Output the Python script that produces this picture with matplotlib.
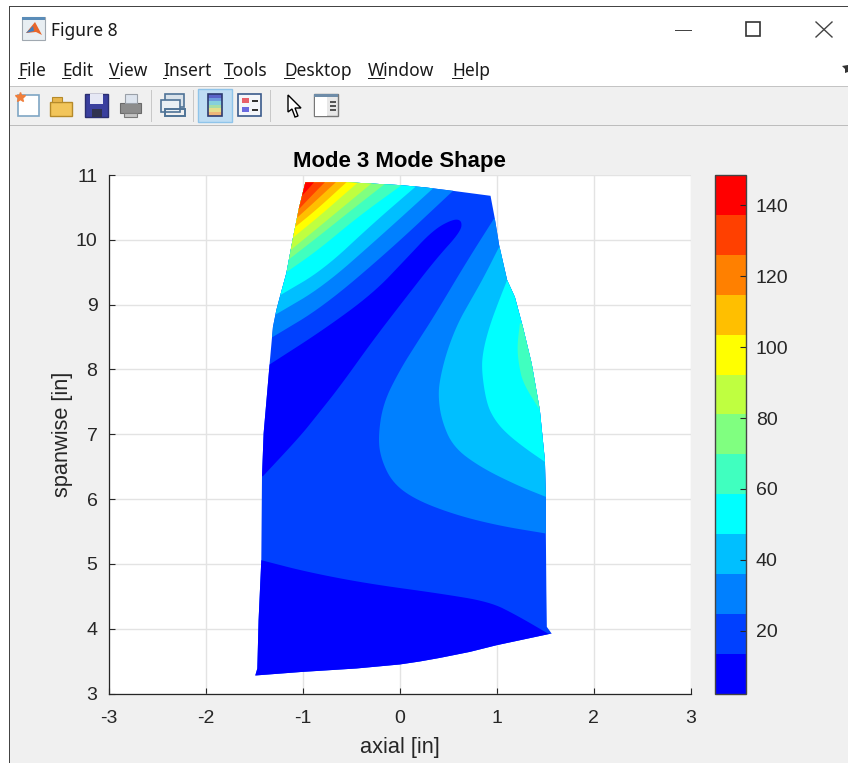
import numpy as np
import matplotlib
matplotlib.use('Agg')
import matplotlib.pyplot as plt
from matplotlib.colors import ListedColormap, BoundaryNorm
from matplotlib.cm import ScalarMappable
from matplotlib.patches import Rectangle, Polygon

plt.rcParams['font.family'] = ['Liberation Sans', 'DejaVu Sans']
plt.rcParams['axes.unicode_minus'] = False

# band colours, low to high
band_colors = ['#0000FF', '#0040FF', '#0080FF', '#00BFFF', '#00FFFF', '#40FFBF', '#80FF80',
               '#BFFF40', '#FFFF00', '#FFBF00', '#FF8000', '#FF4000', '#FF0000']
vmin, vmax = 2.2, 148.6
cbar_ticks = [20, 40, 60, 80, 100, 120, 140]
x_ticks = [-3, -2, -1, 0, 1, 2, 3]
y_ticks = [3, 4, 5, 6, 7, 8, 9, 10, 11]

# blade outline (axial, spanwise)
blade = [(-0.972, 10.886), (-0.567, 10.89), (0, 10.844), (0.258, 10.81), (0.546, 10.756), (0.935, 10.679),
         (0.979, 10.33), (1.024, 9.918), (1.106, 9.378), (1.186, 9.116), (1.268, 8.657), (1.358, 8.097),
         (1.443, 7.372), (1.495, 6.6), (1.505, 6.034), (1.505, 5.474), (1.51, 4.594), (1.515, 4.028),
         (1.564, 3.926), (0.997, 3.745), (0.722, 3.642), (0.412, 3.549), (0.206, 3.494), (0, 3.448),
         (-0.446, 3.386), (-1.007, 3.333),
         (-1.488, 3.278), (-1.467, 3.386), (-1.454, 4.131), (-1.426, 5.057), (-1.419, 6.343), (-1.402, 7.017),
         (-1.34, 8.093), (-1.306, 8.657), (-1.271, 8.915), (-1.23, 9.147), (-1.168, 9.486), (-1.1, 10.027),
         (-1.038, 10.489)]

# lowest band, root of the blade and the long pocket in the middle
low_root = [(-1.426, 5.057), (-0.962, 4.877), (-0.343, 4.698), (0.412, 4.543), (0.928, 4.414),
            (1.203, 4.208), (1.526, 3.926)]
low_pocket = [(-1.34, 8.077), (-0.791, 8.606), (-0.275, 9.173), (0.069, 9.713), (0.343, 10.15), (0.549, 10.32),
              (0.64, 10.3), (0.63, 10.13), (0.378, 9.713), (0.069, 9.12), (-0.275, 8.452), (-0.619, 7.732),
              (-0.859, 7.28), (-1.031, 6.96), (-1.409, 6.353)]

# contour lines round the leading edge tip, from the left edge to the top edge
tip_2 = [(-1.306, 8.503), (-0.791, 8.966), (-0.103, 9.841), (0.549, 10.756)]
tip_3 = [(-1.271, 8.853), (-0.791, 9.275), (-0.206, 10.046), (0.343, 10.793)]
tip_4 = [(-1.23, 9.147), (-0.791, 9.533), (-0.275, 10.253), (0.162, 10.818)]
tip_5 = [(-1.162, 9.506), (-0.842, 9.841), (-0.43, 10.355), (0.01, 10.833)]
tip_6 = [(-1.142, 9.698), (-0.842, 10.046), (-0.498, 10.458), (-0.155, 10.86)]
tip_7 = [(-1.124, 9.841), (-0.894, 10.123), (-0.601, 10.485), (-0.286, 10.875)]
tip_8 = [(-1.089, 10.046), (-0.807, 10.392), (-0.619, 10.639), (-0.43, 10.886)]
tip_9 = [(-1.075, 10.2), (-0.842, 10.485), (-0.55, 10.886)]
tip_10 = [(-1.059, 10.339), (-0.894, 10.562), (-0.66, 10.886)]
tip_11 = [(-1.031, 10.485), (-0.928, 10.648), (-0.773, 10.886)]
tip_12 = [(-1.007, 10.68), (-0.945, 10.78), (-0.884, 10.886)]

# contour lines on the trailing edge side, top to bottom
aft_2 = [(0.972, 10.33), (0.688, 9.66), (0.361, 8.838), (0.175, 8.406), (0, 7.989), (-0.172, 7.475), (-0.224, 6.94),
         (-0.189, 6.6), (-0.069, 6.241), (0.172, 5.983), (0.584, 5.751), (1.031, 5.586), (1.505, 5.469)]
aft_3 = [(1.024, 9.892), (0.859, 9.404), (0.732, 9.07), (0.6, 8.72), (0.49, 8.3), (0.42, 7.9), (0.395, 7.603), (0.43, 7.218),
         (0.549, 6.806), (0.825, 6.497), (1.203, 6.215), (1.505, 6.034)]
aft_4 = [(1.106, 9.378), (1.024, 9.07), (0.928, 8.684), (0.859, 8.298), (0.842, 7.989), (0.894, 7.475), (0.979, 7.218),
         (1.1, 7.012), (1.289, 6.786), (1.495, 6.574)]
aft_5 = [(1.237, 8.71), (1.209, 8.349), (1.227, 8.066), (1.271, 7.784), (1.443, 7.372)]


def smooth(pts, n=3):
  # corner cutting so the contours do not look like polylines, ends stay put
  pts = np.array(pts, dtype=float)
  for _ in range(n):
    q = 0.75 * pts[:-1] + 0.25 * pts[1:]
    r = 0.25 * pts[:-1] + 0.75 * pts[1:]
    mid = np.empty((2 * len(q), 2))
    mid[0::2] = q
    mid[1::2] = r
    pts = np.vstack([pts[:1], mid, pts[-1:]])
  return pts


fig = plt.figure(figsize=(8.48, 7.63), dpi=100, facecolor='#F0F0F0')
dark = '#262626'

# window chrome, in pixels
bg = fig.add_axes([0, 0, 1, 1], zorder=0)
bg.set_xlim(0, 848)
bg.set_ylim(763, 0)
bg.axis('off')


def rect(x0, y0, x1, y1, fc, ec='none', lw=0.0):
  bg.add_patch(Rectangle((x0, y0), x1 - x0, y1 - y0, facecolor=fc, edgecolor=ec, linewidth=lw))


rect(0, 0, 848, 6, 'white')
rect(0, 0, 9, 763, 'white')
rect(10, 7, 848, 86, 'white')
rect(9, 6, 848, 7, '#444444')
rect(9, 6, 10, 763, '#444444')
rect(10, 86, 848, 87, '#C4C4C4')
rect(10, 125, 848, 126, '#BDBDBD')

# matlab logo
rect(22, 17, 45, 40, '#E8EEF2', '#A0A8B0', 0.8)
rect(22, 17, 45, 20, '#5A8CB8')
bg.add_patch(Polygon([(26, 33), (35, 22), (42, 35), (36, 32)], facecolor='#E8662A'))
bg.add_patch(Polygon([(26, 33), (33, 26), (34, 31)], facecolor='#3E7FC1'))
bg.text(51, 31, 'Figure 8', family='Noto Sans', fontsize=12.5, color='#1A1A1A', va='center')

menu_names = ['File', 'Edit', 'View', 'Insert', 'Tools', 'Desktop', 'Window', 'Help']
menu_x = [18, 62, 109, 163, 224, 284, 368, 452]
menu_u = [8, 9, 11, 4, 10, 11, 17, 11]
for name, x, u in zip(menu_names, menu_x, menu_u):
  bg.text(x, 70.5, name, family='Noto Sans', fontsize=12.5, color='#1A1A1A', va='center')
  rect(x, 78, x + u, 79, '#1A1A1A')

# window buttons
rect(675, 30, 692, 31, '#444444')
rect(745.5, 22, 760, 36, 'none', '#333333', 1.2)
bg.plot([816, 832], [22, 37], color='#444444', lw=1.0)
bg.plot([816, 832], [37, 22], color='#444444', lw=1.0)
bg.add_patch(Polygon([(842, 66), (848, 65), (848, 72), (845, 73), (845, 69)], facecolor='#333333'))

# toolbar
for x in [151, 193, 270]:
  rect(x, 90, x + 1, 122, '#C8C8C8')
rect(198, 89, 232, 122, '#BFDDF3', '#8FC4EA', 1.0)
# new
rect(18, 95, 39, 116, 'white', '#7FA6C4', 1.2)
bg.plot([20], [97], marker='*', ms=7, color='#F07F3C')
# open
rect(50, 102, 72, 116, '#F2C55A', '#B58A2A', 1.0)
rect(52, 97, 62, 102, '#E8B64C', '#B58A2A', 0.8)
# save
rect(85, 94, 108, 117, '#3A3F9E', '#2A2E70', 1.0)
rect(90, 94, 103, 104, '#E6E8F5')
rect(92, 109, 102, 117, '#30324F')
# print
rect(120, 103, 141, 113, '#8C8C8C', '#6A6A6A', 0.8)
rect(125, 94, 137, 103, '#DDE4EE', '#9AA0A8', 0.8)
rect(124, 113, 137, 117, '#C4C4C4', '#7A7A7A', 0.8)
# link
rect(165, 94, 184, 107, '#D9E2EA', '#4F7396', 1.2)
rect(161, 100, 180, 112, '#EAF0F4', '#4F7396', 1.2)
rect(165, 109, 185, 116, 'none', '#4F7396', 1.4)
# colorbar
icon_colors = ['#5B64C8', '#6F9BDD', '#85D0DC', '#A8DDA6', '#E4DE8C', '#EDB678']
for i, c in enumerate(icon_colors):
  rect(208, 94 + i * 3.6, 222, 94 + (i + 1) * 3.6, c)
rect(208, 94, 222, 115.6, 'none', '#2D3A70', 1.2)
# legend
rect(238, 94, 261, 116, '#F4F6FA', '#3A5A8C', 1.2)
rect(242, 98, 249, 103, '#E8606A')
rect(242, 107, 249, 112, '#6A6AE0')
rect(252, 100, 258, 101.5, '#333333')
rect(252, 109, 258, 110.5, '#333333')
# arrow
bg.add_patch(Polygon([(288, 95), (288, 112), (292, 109), (295, 117), (298, 116), (295, 108), (301, 108)],
                     facecolor='white', edgecolor='black', linewidth=1.0))
# property editor
rect(314, 94, 338, 116, '#E8E8E8', '#777777', 1.0)
rect(314, 94, 338, 97, '#6E8CA8')
rect(315, 97, 327, 115.5, 'white')
for y in [101, 105, 109]:
  rect(330, y, 336, y + 2, '#555555')

# main plot
ax = fig.add_axes([108.5 / 848, (763 - 693.5) / 763, 582.5 / 848, (693.5 - 175) / 763], zorder=1)
ax.set_facecolor('white')

outline = Polygon(blade, closed=True, facecolor=band_colors[1], edgecolor='none', zorder=2)
ax.add_patch(outline)


def band(curve, extra, color):
  pts = np.vstack([smooth(curve), np.array(extra)])
  p = Polygon(pts, closed=True, facecolor=color, edgecolor='none', zorder=2)
  ax.add_patch(p)
  p.set_clip_path(outline)


band(low_root, [(1.9, 3.926), (1.9, 3.0), (-1.8, 3.0), (-1.8, low_root[0][1])], band_colors[0])
band(low_pocket, [(-1.8, low_pocket[-1][1]), (-1.8, low_pocket[0][1])], band_colors[0])

tip_lines = [tip_2, tip_3, tip_4, tip_5, tip_6, tip_7, tip_8, tip_9, tip_10, tip_11, tip_12]
for i, curve in enumerate(tip_lines):
  band(curve, [(curve[-1][0], 11.0), (-1.8, 11.0), (-1.8, curve[0][1])], band_colors[i + 2])

aft_lines = [aft_2, aft_3, aft_4, aft_5]
for i, curve in enumerate(aft_lines):
  band(curve, [(1.9, curve[-1][1]), (1.9, curve[0][1])], band_colors[i + 2])

ax.set_xlim(-3, 3)
ax.set_ylim(3, 11)
ax.set_xticks(x_ticks)
ax.set_yticks(y_ticks)
ax.grid(True, color='#E3E3E3', lw=1.0, zorder=1)
ax.set_axisbelow(True)
ax.spines['top'].set_visible(False)
ax.spines['right'].set_visible(False)
for s in ['left', 'bottom']:
  ax.spines[s].set_color(dark)
  ax.spines[s].set_linewidth(0.9)
ax.tick_params(direction='in', length=4.5, width=0.8, color=dark, labelcolor=dark, labelsize=14)
ax.tick_params(axis='x', pad=12)
ax.tick_params(axis='y', pad=8)
ax.set_title('Mode 3 Mode Shape', fontsize=15.9, fontweight='bold', color='black', pad=6)
ax.set_xlabel('axial [in]', fontsize=15.7, color=dark, labelpad=7)
ax.set_ylabel('spanwise [in]', fontsize=15.7, color=dark, labelpad=2)

# colorbar
cax = fig.add_axes([715 / 848, (763 - 693.7) / 763, 31 / 848, (693.7 - 175) / 763], zorder=1)
levels = np.linspace(vmin, vmax, len(band_colors) + 1)
sm = ScalarMappable(norm=BoundaryNorm(levels, len(band_colors)), cmap=ListedColormap(band_colors))
cb = fig.colorbar(sm, cax=cax, spacing='proportional', ticks=cbar_ticks, drawedges=False)
cb.ax.tick_params(direction='in', length=4.5, width=0.8, color=dark, labelcolor=dark, labelsize=14, pad=7)
cb.ax.minorticks_off()
cb.outline.set_edgecolor('#444444')
cb.outline.set_linewidth(1.0)

fig.savefig('out.png', dpi=100, facecolor=fig.get_facecolor())
